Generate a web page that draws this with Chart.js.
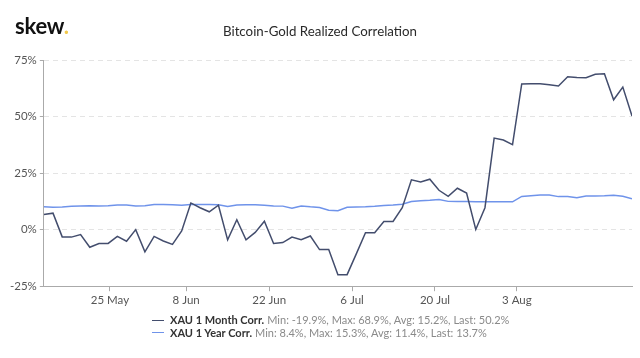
<!DOCTYPE html>
<html><head><meta charset="utf-8">
<script src="https://cdn.jsdelivr.net/npm/chart.js@4.4.0/dist/chart.umd.min.js"></script>
<style>
html,body{margin:0;padding:0;background:#fff;}
#wrap{position:relative;width:640px;height:358px;overflow:hidden;font-family:Lato,sans-serif;}
#c{position:absolute;left:0;top:0;}
#logo{position:absolute;left:15px;top:13px;font:bold 22px Lato;color:#111;letter-spacing:-0.2px;line-height:26px}
#logo span{color:#f2c94c}
#title{position:absolute;left:0;width:640px;top:23px;text-align:center;font:13.3px Lato;color:#2a2a2a;line-height:16px}
#legend{position:absolute;left:152px;top:314px;font:11px Lato;color:#8a8a8a;line-height:12.5px}
.row{white-space:nowrap;display:flex;align-items:center;height:12.5px}
.mk{display:inline-block;width:12px;height:0;border-top:1.5px solid;margin-right:6px}
.nm{font-weight:bold;color:#333;margin-right:3px}
</style></head>
<body>
<div id="wrap">
<canvas id="c" width="640" height="358"></canvas>
<div id="logo">skew<span>.</span></div>
<div id="title">Bitcoin-Gold Realized Correlation</div>
<div id="legend"></div>
</div>
<script>
const seriesNames = ['XAU 1 Month Corr.', 'XAU 1 Year Corr.'];
const legendStats = ['Min: -19.9%, Max: 68.9%, Avg: 15.2%, Last: 50.2%', 'Min: 8.4%, Max: 15.3%, Avg: 11.4%, Last: 13.7%'];
const seriesColors = ['#434d6d', '#6f93ea'];
const month1 = [6.7,7.3,-3.2,-3.3,-2.2,-7.8,-6.1,-6.1,-3.0,-5.1,
  0.0,-9.8,-3.0,-5.0,-6.5,-0.6,11.8,9.7,7.9,10.8,
  -4.5,4.4,-4.5,-1.2,3.7,-6.1,-5.7,-3.3,-4.4,-2.8,
  -8.8,-8.8,-19.9,-19.9,-10.7,-1.4,-1.4,3.6,3.6,9.7,
  22.0,21.1,22.3,17.4,14.7,18.3,16.2,0.1,9.7,40.5,
  39.6,37.6,64.4,64.5,64.5,64.1,63.5,67.6,67.3,67.2,
  68.7,68.9,57.4,63.0,50.2];
const year1 = [10.1,9.9,10.0,10.3,10.5,10.6,10.5,10.6,10.9,10.9,
  10.5,10.6,11.1,11.1,11.0,10.8,11.1,11.1,11.1,11.0,
  10.2,10.9,11.0,11.0,10.8,10.5,10.4,9.5,10.5,10.1,
  9.8,8.6,8.4,9.9,10.0,10.1,10.3,10.7,10.9,11.2,
  12.4,12.8,13.0,13.3,12.5,12.4,12.4,12.3,12.3,12.3,
  12.3,12.3,14.7,15.0,15.3,15.3,14.6,14.6,14.1,14.9,
  14.9,15.0,15.2,14.8,13.7];
const xTickLabels = ['25 May','8 Jun','22 Jun','6 Jul','20 Jul','3 Aug'];
const xTickPositions = [7.19,15.49,24.52,33.54,42.56,51.48];
const yTicks = [-25,0,25,50,75];

const series = [month1, year1];
const legend = document.getElementById('legend');
seriesNames.forEach((n,i)=>{
  const r = document.createElement('div'); r.className='row';
  const m = document.createElement('span'); m.className='mk'; m.style.borderTopColor = seriesColors[i];
  const b = document.createElement('span'); b.className='nm'; b.textContent = n;
  const s = document.createElement('span'); s.textContent = legendStats[i];
  r.appendChild(m); r.appendChild(b); r.appendChild(s); legend.appendChild(r);
});

const fnt = {family:'Lato', size:11.5};
new Chart(document.getElementById('c'), {
  type:'line',
  data:{datasets: series.map((arr,i)=>({
    label: seriesNames[i],
    data: arr.map((v,j)=>({x:j,y:v})),
    borderColor: seriesColors[i], borderWidth:1.5, pointRadius:0, tension:0, fill:false
  }))},
  options:{
    responsive:false, animation:false, devicePixelRatio:1,
    layout:{padding:{left:7,right:8,top:60,bottom:49}},
    plugins:{legend:{display:false},title:{display:false},tooltip:{enabled:false}},
    scales:{
      x:{type:'linear', min:0, max:month1.length-1,
        afterBuildTicks:s=>{s.ticks = xTickPositions.map(v=>({value:v}));},
        ticks:{autoSkip:false, maxRotation:0, padding:2, color:'#555', font:fnt, callback:(v,i)=>xTickLabels[i]},
        grid:{drawOnChartArea:false, drawTicks:true, tickLength:5, tickColor:'#aaa'},
        border:{color:'#aaa', width:1}},
      y:{min:-25, max:75,
        afterBuildTicks:s=>{s.ticks = yTicks.map(v=>({value:v}));},
        ticks:{padding:3, color:'#555', font:fnt, callback:v=>v+'%'},
        grid:{color:'#e4e4e4', tickColor:'#aaa', tickLength:4, lineWidth:1},
        border:{color:'#aaa', width:1, dash:[5,4]}}
    }
  }
});
</script>
</body></html>
